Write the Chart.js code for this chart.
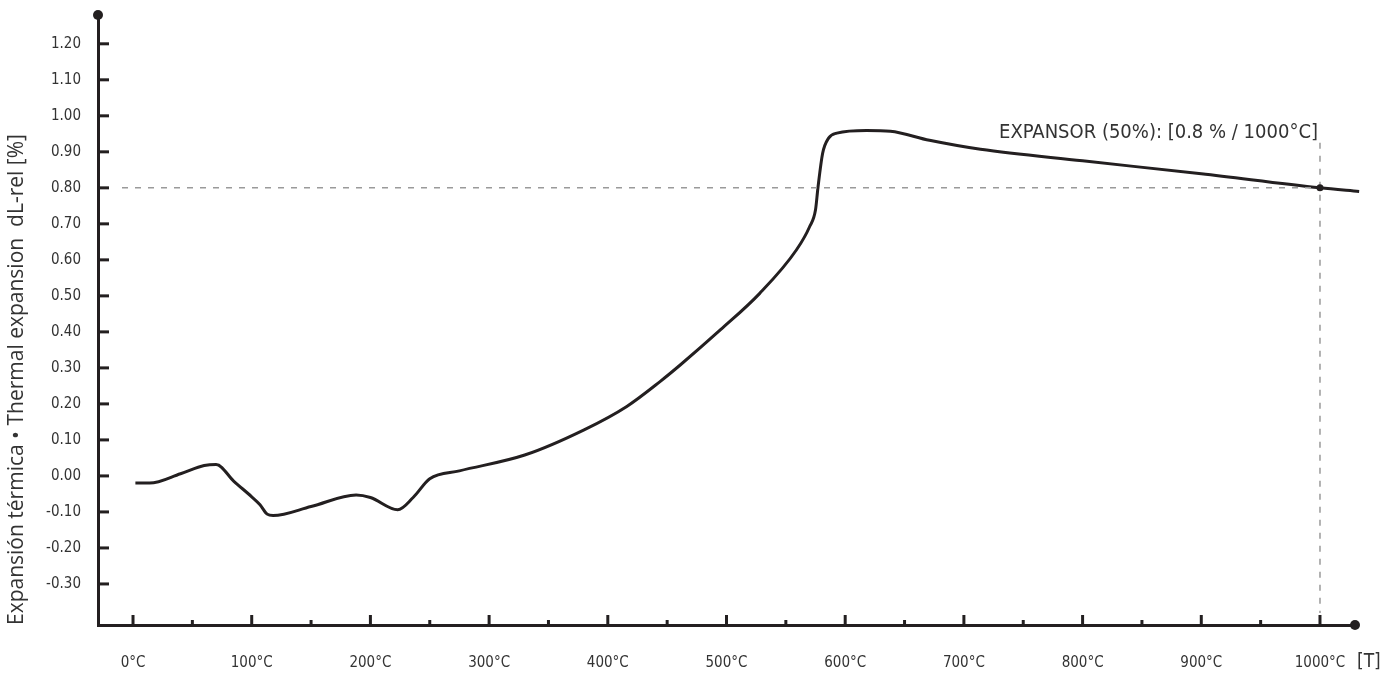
<!DOCTYPE html>
<html>
<head>
<meta charset="utf-8">
<script src="https://cdn.jsdelivr.net/npm/chart.js@4"></script>
<style>
  body { margin: 0; background: #fff; }
  #wrap { width: 1397px; height: 678px; }
</style>
</head>
<body>
<div id="wrap"><canvas id="chart" width="1397" height="678"></canvas></div>
<script>
const temps = [2, 14, 40, 60, 70, 85, 100, 107, 113, 118, 150, 188, 200, 223, 236, 250, 275, 330, 380, 416, 444, 461, 495, 528, 559, 570, 575, 577, 581, 586, 593, 618, 638, 671, 714, 800, 900, 1000, 1033];
const expansion = [-0.02, -0.02, 0.006, 0.029, 0.032, -0.015, -0.058, -0.08, -0.106, -0.11, -0.085, -0.053, -0.06, -0.094, -0.06, -0.008, 0.014, 0.058, 0.128, 0.193, 0.262, 0.308, 0.406, 0.507, 0.628, 0.692, 0.739, 0.799, 0.896, 0.938, 0.952, 0.959, 0.957, 0.932, 0.907, 0.875, 0.839, 0.80, 0.79];
const xTicks = [0, 50, 100, 150, 200, 250, 300, 350, 400, 450, 500, 550, 600, 650, 700, 750, 800, 850, 900, 950, 1000];
const yTicks = [-0.3, -0.2, -0.1, 0, 0.1, 0.2, 0.3, 0.4, 0.5, 0.6, 0.7, 0.8, 0.9, 1.0, 1.1, 1.2];
const markTemp = 1000;
const markValue = 0.8;
const markLabel = 'EXPANSOR (50%): [0.8 % / 1000°C]';
const yTitle = 'Expansión térmica • Thermal expansion  dL-rel [%]';

const narrow = "'Liberation Sans Narrow', 'DejaVu Sans Condensed', 'Roboto', sans-serif";
const ink = '#231f20';

// axis end dots, tick marks, reference lines and labels
const decor = {
  id: 'decor',
  afterDraw(chart) {
    const ctx = chart.ctx;
    const x = chart.scales.x, y = chart.scales.y;
    const a = chart.chartArea;
    ctx.save();
    ctx.strokeStyle = ink;
    ctx.lineWidth = 3;
    yTicks.forEach(v => {
      const py = y.getPixelForValue(v);
      ctx.beginPath(); ctx.moveTo(a.left, py); ctx.lineTo(a.left + 11, py); ctx.stroke();
    });
    xTicks.forEach(t => {
      const px = x.getPixelForValue(t);
      const len = t % 100 === 0 ? 10 : 5;
      ctx.beginPath(); ctx.moveTo(px, a.bottom); ctx.lineTo(px, a.bottom - len); ctx.stroke();
    });
    ctx.fillStyle = ink;
    ctx.beginPath(); ctx.arc(a.left, a.top, 5, 0, Math.PI * 2); ctx.fill();
    ctx.beginPath(); ctx.arc(a.right, a.bottom, 5, 0, Math.PI * 2); ctx.fill();

    const mx = x.getPixelForValue(markTemp), my = y.getPixelForValue(markValue);
    ctx.strokeStyle = '#9a9a9a';
    ctx.lineWidth = 1.5;
    ctx.setLineDash([6, 7]);
    ctx.beginPath(); ctx.moveTo(a.left + 24, my); ctx.lineTo(mx, my); ctx.stroke();
    ctx.beginPath(); ctx.moveTo(mx, my - 45); ctx.lineTo(mx, a.bottom - 12); ctx.stroke();
    ctx.setLineDash([]);
    ctx.fillStyle = ink;
    ctx.beginPath(); ctx.arc(mx, my, 3.5, 0, Math.PI * 2); ctx.fill();

    ctx.fillStyle = '#333';
    ctx.font = '20px ' + narrow;
    ctx.textAlign = 'right';
    ctx.textBaseline = 'middle';
    ctx.fillText(markLabel, mx - 2, my - 55);
    ctx.font = '19px ' + narrow;
    ctx.textAlign = 'left';
    ctx.fillText('[T]', a.right + 2, a.bottom + 37);
    ctx.restore();
  }
};

new Chart(document.getElementById('chart'), {
  type: 'line',
  data: {
    datasets: [{
      data: temps.map((t, i) => ({ x: t, y: expansion[i] })),
      borderColor: ink,
      borderWidth: 3,
      pointRadius: 0,
      cubicInterpolationMode: 'monotone',
      fill: false,
      clip: false
    }]
  },
  options: {
    responsive: false,
    animation: false,
    layout: { padding: { left: 0, top: 15, right: 42, bottom: 0 } },
    plugins: { legend: { display: false }, tooltip: { enabled: false } },
    scales: {
      x: {
        type: 'linear',
        min: -29.5,
        max: 1029.5,
        afterBuildTicks: s => { s.ticks = xTicks.map(v => ({ value: v })); },
        afterFit: s => { s.height = 53; s.paddingLeft = 0; s.paddingRight = 0; },
        grid: { display: false, drawTicks: false },
        border: { color: ink, width: 3 },
        ticks: {
          padding: 29,
          color: '#333',
          font: { family: narrow, size: 15 },
          maxRotation: 0,
          autoSkip: false,
          callback: v => v % 100 === 0 ? v + '°C' : ''
        }
      },
      y: {
        min: -0.414,
        max: 1.28,
        afterBuildTicks: s => { s.ticks = yTicks.map(v => ({ value: v })); },
        afterFit: s => { s.width = 98; s.paddingTop = 0; s.paddingBottom = 0; },
        grid: { display: false, drawTicks: false },
        border: { color: ink, width: 3 },
        ticks: {
          padding: 17,
          color: '#333',
          font: { family: narrow, size: 15 },
          autoSkip: false,
          callback: v => v.toFixed(2)
        },
        title: {
          display: true,
          text: yTitle,
          align: 'start',
          color: '#333',
          font: { family: "'Open Sans', 'Noto Sans', sans-serif", size: 21 },
          padding: { top: 4, bottom: 0 }
        }
      }
    }
  },
  plugins: [decor]
});
</script>
</body>
</html>
